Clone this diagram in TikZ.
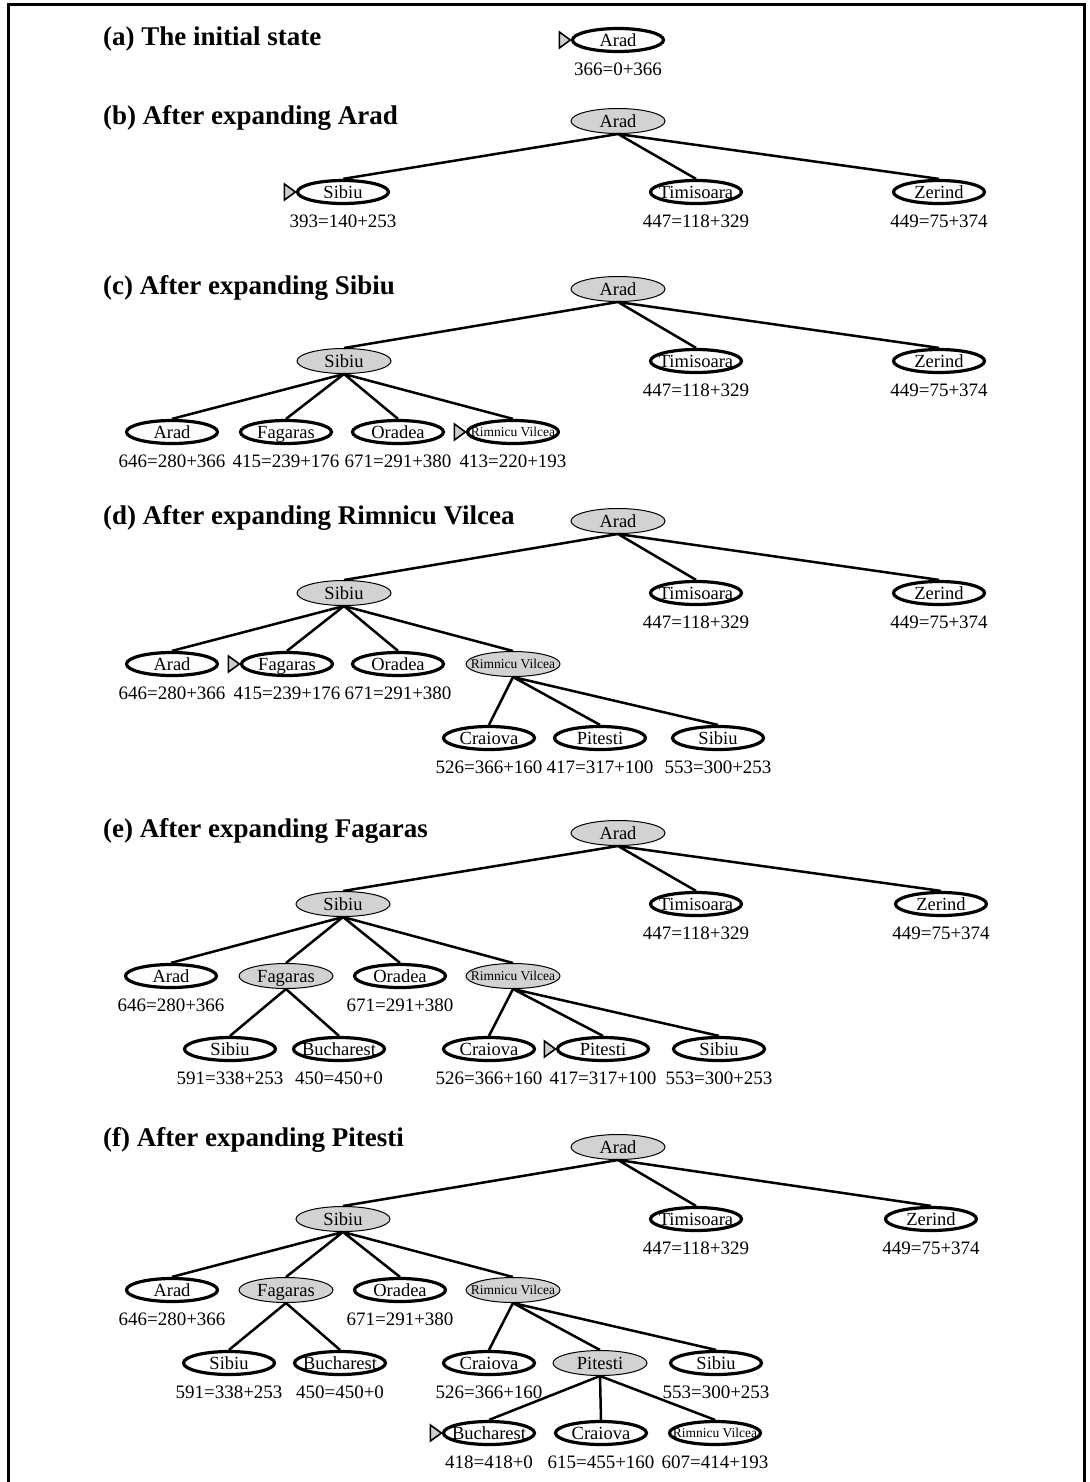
\documentclass[tikz,border=0pt]{standalone}
\usepackage{fontspec}
\setmainfont{Liberation Serif}
\usepackage{tikz}
\usetikzlibrary{shapes.geometric, positioning}

\begin{document}
\begin{tikzpicture}[x=1pt, y=-1pt,
  heading/.style={anchor=base west, inner sep=0pt, font=\fontsize{27}{30}\selectfont\bfseries},
  city/.style={ellipse, inner xsep=-15pt, inner ysep=-6pt, text height=12.5pt, text depth=0pt, font=\fontsize{18.5}{20}\selectfont},
  open/.style={city, draw, line width=3.2pt, fill=white, minimum width=91pt, minimum height=23pt},
  shut/.style={city, draw, line width=1pt, fill=gray!35, minimum width=94pt, minimum height=25pt},
  rv/.style={font=\fontsize{13.5}{16}\selectfont, text height=9pt},
  val/.style={inner sep=0pt, font=\fontsize{19}{21}\selectfont},
  branch/.style={line width=2.5pt},
  pick/.style={draw, fill=gray!40, line width=1.6pt, line join=miter}
]
  \useasboundingbox (0,0) rectangle (1089,1482);

  % Frame
  \draw[line width=3pt] (8,1482) -- (8,5) -- (1084.5,5) -- (1084.5,1482);

  % (a) The initial state
  \node[heading] (aT) at (103,46) {(a) The initial state};
  \node[open] (aArad) at (618,40) {Arad};
  \node[val, below=9.5pt of aArad] (aAradv) {366=0+366};
  \draw[pick] ([xshift=-0.5pt]aArad.west) -- ++(-11,8) -- ++(0,-16) -- cycle;

  % (b) After expanding Arad
  \node[heading] (bT) at (103,125) {(b) After expanding Arad};
  \node[shut] (bArad) at (618,121) {Arad};
  \node[open] (bSib) at (343,192) {Sibiu};
  \node[open] (bTim) at (696,192) {Timisoara};
  \node[open] (bZer) at (939,192) {Zerind};
  \node[val, below=9.5pt of bSib] (bSibv) {393=140+253};
  \node[val, below=9.5pt of bTim] (bTimv) {447=118+329};
  \node[val, below=9.5pt of bZer] (bZerv) {449=75+374};
  \draw[branch] (bArad.south) -- (bSib.north) (bArad.south) -- (bTim.north) (bArad.south) -- (bZer.north);
  \draw[pick] ([xshift=-0.5pt]bSib.west) -- ++(-11,8) -- ++(0,-16) -- cycle;

  % (c) After expanding Sibiu
  \node[heading] (cT) at (103,294) {(c) After expanding Sibiu};
  \node[shut] (cArad) at (618,289) {Arad};
  \node[shut] (cSib) at (344,361) {Sibiu};
  \node[open] (cTim) at (696,361) {Timisoara};
  \node[open] (cZer) at (939,361) {Zerind};
  \node[val, below=9.5pt of cTim] (cTimv) {447=118+329};
  \node[val, below=9.5pt of cZer] (cZerv) {449=75+374};
  \node[open] (cArad2) at (172,432) {Arad};
  \node[open] (cFag) at (286,432) {Fagaras};
  \node[open] (cOra) at (398,432) {Oradea};
  \node[open, rv] (cRim) at (513,432) {Rimnicu Vilcea};
  \node[val, below=9.5pt of cArad2] (cArad2v) {646=280+366};
  \node[val, below=9.5pt of cFag] (cFagv) {415=239+176};
  \node[val, below=9.5pt of cOra] (cOrav) {671=291+380};
  \node[val, below=9.5pt of cRim] (cRimv) {413=220+193};
  \draw[branch] (cArad.south) -- (cSib.north) (cArad.south) -- (cTim.north) (cArad.south) -- (cZer.north);
  \draw[branch] (cSib.south) -- (cArad2.north) (cSib.south) -- (cFag.north) (cSib.south) -- (cOra.north) (cSib.south) -- (cRim.north);
  \draw[pick] ([xshift=-0.5pt]cRim.west) -- ++(-11,8) -- ++(0,-16) -- cycle;

  % (d) After expanding Rimnicu Vilcea
  \node[heading] (dT) at (103,524) {(d) After expanding Rimnicu Vilcea};
  \node[shut] (dArad) at (618,521) {Arad};
  \node[shut] (dSib) at (344,593) {Sibiu};
  \node[open] (dTim) at (696,593) {Timisoara};
  \node[open] (dZer) at (939,593) {Zerind};
  \node[val, below=9.5pt of dTim] (dTimv) {447=118+329};
  \node[val, below=9.5pt of dZer] (dZerv) {449=75+374};
  \node[open] (dArad2) at (172,664) {Arad};
  \node[open] (dFag) at (287,664) {Fagaras};
  \node[open] (dOra) at (398,664) {Oradea};
  \node[shut, rv] (dRim) at (513,664) {Rimnicu Vilcea};
  \node[val, below=9.5pt of dArad2] (dArad2v) {646=280+366};
  \node[val, below=9.5pt of dFag] (dFagv) {415=239+176};
  \node[val, below=9.5pt of dOra] (dOrav) {671=291+380};
  \node[open] (dCra) at (489,738) {Craiova};
  \node[open] (dPit) at (600,738) {Pitesti};
  \node[open] (dSib2) at (718,738) {Sibiu};
  \node[val, below=9.5pt of dCra] (dCrav) {526=366+160};
  \node[val, below=9.5pt of dPit] (dPitv) {417=317+100};
  \node[val, below=9.5pt of dSib2] (dSib2v) {553=300+253};
  \draw[branch] (dArad.south) -- (dSib.north) (dArad.south) -- (dTim.north) (dArad.south) -- (dZer.north);
  \draw[branch] (dSib.south) -- (dArad2.north) (dSib.south) -- (dFag.north) (dSib.south) -- (dOra.north) (dSib.south) -- (dRim.north);
  \draw[branch] (dRim.south) -- (dCra.north) (dRim.south) -- (dPit.north) (dRim.south) -- (dSib2.north);
  \draw[pick] ([xshift=-0.5pt]dFag.west) -- ++(-11,8) -- ++(0,-16) -- cycle;

  % (e) After expanding Fagaras
  \node[heading] (eT) at (103,837) {(e) After expanding Fagaras};
  \node[shut] (eArad) at (618,833) {Arad};
  \node[shut] (eSib) at (343,904) {Sibiu};
  \node[open] (eTim) at (696,904) {Timisoara};
  \node[open] (eZer) at (941,904) {Zerind};
  \node[val, below=9.5pt of eTim] (eTimv) {447=118+329};
  \node[val, below=9.5pt of eZer] (eZerv) {449=75+374};
  \node[open] (eArad2) at (171,976) {Arad};
  \node[shut] (eFag) at (286,976) {Fagaras};
  \node[open] (eOra) at (400,976) {Oradea};
  \node[shut, rv] (eRim) at (513,976) {Rimnicu Vilcea};
  \node[val, below=9.5pt of eArad2] (eArad2v) {646=280+366};
  \node[val, below=9.5pt of eOra] (eOrav) {671=291+380};
  \node[open] (eSib3) at (230,1049) {Sibiu};
  \node[open] (eBuc) at (339,1049) {Bucharest};
  \node[open] (eCra) at (489,1049) {Craiova};
  \node[open] (ePit) at (603,1049) {Pitesti};
  \node[open] (eSib2) at (719,1049) {Sibiu};
  \node[val, below=9.5pt of eSib3] (eSib3v) {591=338+253};
  \node[val, below=9.5pt of eBuc] (eBucv) {450=450+0};
  \node[val, below=9.5pt of eCra] (eCrav) {526=366+160};
  \node[val, below=9.5pt of ePit] (ePitv) {417=317+100};
  \node[val, below=9.5pt of eSib2] (eSib2v) {553=300+253};
  \draw[branch] (eArad.south) -- (eSib.north) (eArad.south) -- (eTim.north) (eArad.south) -- (eZer.north);
  \draw[branch] (eSib.south) -- (eArad2.north) (eSib.south) -- (eFag.north) (eSib.south) -- (eOra.north) (eSib.south) -- (eRim.north);
  \draw[branch] (eFag.south) -- (eSib3.north) (eFag.south) -- (eBuc.north);
  \draw[branch] (eRim.south) -- (eCra.north) (eRim.south) -- (ePit.north) (eRim.south) -- (eSib2.north);
  \draw[pick] ([xshift=-0.5pt]ePit.west) -- ++(-11,8) -- ++(0,-16) -- cycle;

  % (f) After expanding Pitesti
  \node[heading] (fT) at (103,1146) {(f) After expanding Pitesti};
  \node[shut] (fArad) at (618,1147) {Arad};
  \node[shut] (fSib) at (343,1219) {Sibiu};
  \node[open] (fTim) at (696,1219) {Timisoara};
  \node[open] (fZer) at (931,1219) {Zerind};
  \node[val, below=9.5pt of fTim] (fTimv) {447=118+329};
  \node[val, below=9.5pt of fZer] (fZerv) {449=75+374};
  \node[open] (fArad2) at (172,1290) {Arad};
  \node[shut] (fFag) at (286,1290) {Fagaras};
  \node[open] (fOra) at (400,1290) {Oradea};
  \node[shut, rv] (fRim) at (513,1290) {Rimnicu Vilcea};
  \node[val, below=9.5pt of fArad2] (fArad2v) {646=280+366};
  \node[val, below=9.5pt of fOra] (fOrav) {671=291+380};
  \node[open] (fSib3) at (229,1363) {Sibiu};
  \node[open] (fBuc) at (340,1363) {Bucharest};
  \node[open] (fCra) at (489,1363) {Craiova};
  \node[shut] (fPit) at (600,1363) {Pitesti};
  \node[open] (fSib2) at (716,1363) {Sibiu};
  \node[val, below=9.5pt of fSib3] (fSib3v) {591=338+253};
  \node[val, below=9.5pt of fBuc] (fBucv) {450=450+0};
  \node[val, below=9.5pt of fCra] (fCrav) {526=366+160};
  \node[val, below=9.5pt of fSib2] (fSib2v) {553=300+253};
  \node[open] (fBuc2) at (489,1433) {Bucharest};
  \node[open] (fCra2) at (601,1433) {Craiova};
  \node[open, rv] (fRim2) at (715,1433) {Rimnicu Vilcea};
  \node[val, below=9.5pt of fBuc2] (fBuc2v) {418=418+0};
  \node[val, below=9.5pt of fCra2] (fCra2v) {615=455+160};
  \node[val, below=9.5pt of fRim2] (fRim2v) {607=414+193};
  \draw[branch] (fArad.south) -- (fSib.north) (fArad.south) -- (fTim.north) (fArad.south) -- (fZer.north);
  \draw[branch] (fSib.south) -- (fArad2.north) (fSib.south) -- (fFag.north) (fSib.south) -- (fOra.north) (fSib.south) -- (fRim.north);
  \draw[branch] (fFag.south) -- (fSib3.north) (fFag.south) -- (fBuc.north);
  \draw[branch] (fRim.south) -- (fCra.north) (fRim.south) -- (fPit.north) (fRim.south) -- (fSib2.north);
  \draw[branch] (fPit.south) -- (fBuc2.north) (fPit.south) -- (fCra2.north) (fPit.south) -- (fRim2.north);
  \draw[pick] ([xshift=-0.5pt]fBuc2.west) -- ++(-11,8) -- ++(0,-16) -- cycle;
\end{tikzpicture}
\end{document}
